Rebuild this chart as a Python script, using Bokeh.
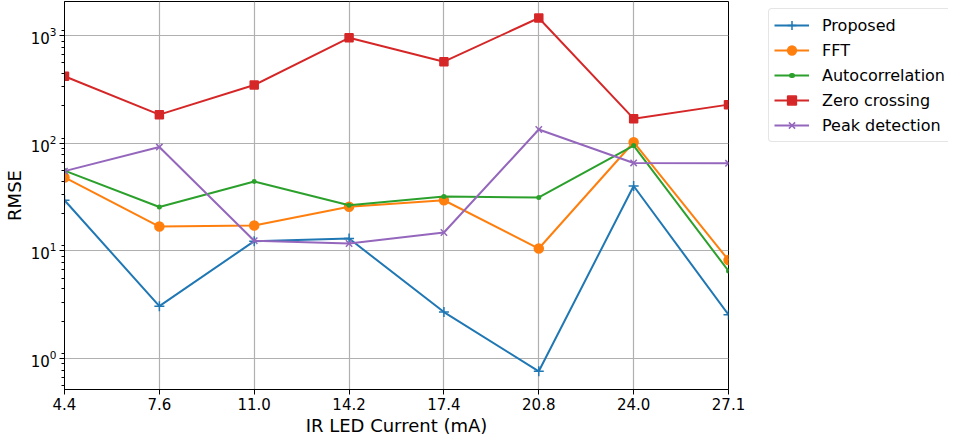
from bokeh.plotting import figure
from bokeh.models import Range1d, FixedTicker, Legend, LegendItem, LogTicker
from bokeh.layouts import row
from bokeh.embed import file_html
from bokeh.resources import INLINE

x_labels = ["4.4", "7.6", "11.0", "14.2", "17.4", "20.8", "24.0", "27.1"]
proposed = [29.5, 3.06, 12.3, 13.0, 2.7, 0.76, 40.0, 2.55]
fft = [48.0, 16.8, 17.2, 25.7, 29.5, 10.5, 102.0, 8.2]
autocorrelation = [55.6, 25.5, 44.0, 26.5, 31.9, 31.3, 95.0, 6.5]
zero_crossing = [418.0, 184.0, 347.0, 952.0, 571.0, 1455.0, 169.0, 228.0]
peak_detection = [55.0, 92.0, 12.4, 11.7, 14.8, 134.0, 65.5, 65.0]
series_names = ["Proposed", "FFT", "Autocorrelation", "Zero crossing", "Peak detection"]

xs = list(range(len(x_labels)))
FONT = "DejaVu Sans"

p = figure(frame_width=664, frame_height=388, y_axis_type="log",
           x_range=Range1d(0, len(x_labels) - 1), y_range=Range1d(0.515, 2070),
           output_backend="svg", toolbar_location=None,
           min_border_left=57, min_border_top=1, min_border_bottom=0, min_border_right=20)

p.outline_line_color = "black"
p.outline_line_width = 1
p.background_fill_color = "white"
p.border_fill_color = "white"

p.xaxis.ticker = FixedTicker(ticks=xs)
p.xaxis.major_label_overrides = {i: lab for i, lab in enumerate(x_labels)}
p.yaxis.ticker = LogTicker(num_minor_ticks=9)
for ax in (p.xaxis[0], p.yaxis[0]):
    ax.axis_line_color = "black"
    ax.major_tick_line_color = "black"
    ax.major_tick_in = 0
    ax.major_tick_out = 5
    ax.minor_tick_in = 0
    ax.minor_tick_out = 3
    ax.major_label_standoff = 3
    ax.major_label_text_font = FONT
    ax.major_label_text_font_size = "15px"
    ax.major_label_text_color = "black"
    ax.axis_label_text_font = FONT
    ax.axis_label_text_font_size = "18px"
    ax.axis_label_text_font_style = "normal"
    ax.axis_label_text_color = "black"
p.xaxis.minor_tick_line_color = None
p.yaxis.minor_tick_line_color = "black"
p.xaxis.axis_label = "IR LED Current (mA)"
p.yaxis.axis_label = "RMSE"
p.xaxis.axis_label_standoff = 2
p.yaxis.axis_label_standoff = 3

p.xgrid.grid_line_color = "#b0b0b0"
p.ygrid.grid_line_color = "#b0b0b0"
p.xgrid.grid_line_width = 1.2
p.ygrid.grid_line_width = 1.2

values = [proposed, fft, autocorrelation, zero_crossing, peak_detection]
colors = ["#1f77b4", "#ff7f0e", "#2ca02c", "#d62728", "#9467bd"]
markers = ["cross", "circle", "dot", "square", "x"]
sizes = [10, 9, 20, 8, 9]

# legend panel (separate figure, to the right of the frame)
lg = figure(width=200, height=300, output_backend="svg", toolbar_location=None,
            x_axis_location=None, y_axis_location=None,
            min_border_left=13, min_border_top=1, min_border_right=0, min_border_bottom=0,
            x_range=Range1d(0, 1), y_range=Range1d(0, 1))
lg.outline_line_color = None
lg.xgrid.visible = False
lg.ygrid.visible = False

items = []
for name, ys, col, marker, size in zip(series_names, values, colors, markers, sizes):
    p.line(xs, ys, line_color=col, line_width=2)
    p.scatter(xs, ys, marker=marker, size=size, line_color=col,
              fill_color=col, line_width=1.5)
    # off-range proxies so the legend can draw each style
    rends = [lg.line([5, 6], [5, 6], line_color=col, line_width=2)]
    if marker == "dot":
        rends.append(lg.line([5, 6], [5, 6], line_color=col, line_width=5,
                             line_cap="round", line_dash="1 100", line_dash_offset=84))
    else:
        rends.append(lg.scatter([5], [5], marker=marker, size=size, line_color=col,
                                fill_color=col, line_width=1.5))
    items.append(LegendItem(label=name, renderers=rends))

legend = Legend(items=items, location="top_left", margin=7)
legend.label_text_font = FONT
legend.label_text_font_size = "16px"
legend.label_text_color = "black"
legend.glyph_width = 35
legend.glyph_height = 22
legend.label_height = 22
legend.spacing = 3
legend.padding = 5
legend.label_standoff = 13
legend.border_line_color = "#cccccc"
legend.border_line_width = 1
legend.border_radius = 4
legend.background_fill_alpha = 1
lg.add_layout(legend, "center")

layout = row(p, lg)
open("out.html", "w").write(file_html(layout, INLINE))
